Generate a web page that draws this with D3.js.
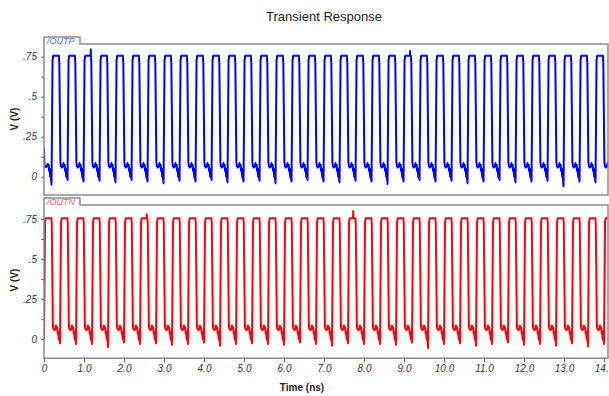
<!DOCTYPE html>
<html>
<head>
<meta charset="utf-8">
<script src="https://cdn.jsdelivr.net/npm/d3@7"></script>
<style>
  body { margin: 0; background: #fff; }
  svg { display: block; font-family: "Liberation Sans", Arial, sans-serif; }
</style>
</head>
<body>
<svg></svg>
<script>
// axis ticks
const xTicks = [0, 1, 2, 3, 4, 5, 6, 7, 8, 9, 10, 11, 12, 13, 14];
const xTickLabels = ["0", "1.0", "2.0", "3.0", "4.0", "5.0", "6.0", "7.0", "8.0", "9.0", "10.0", "11.0", "12.0", "13.0", "14.0"];
const yTicks = [0, 0.25, 0.5, 0.75];
const yTickLabels = ["0", ".25", ".5", ".75"];
const yMinorTicks = [0.125, 0.375, 0.625];

// clock period and phase of each output (ns)
const period = 0.4;
const outnPhase = 0.012;
const outpPhase = 0.2;

// shape of one cycle: time from the rising edge (ns) and voltage (V)
// null = the dip of that cycle just before it rises
const cycleOffset = [-0.085, -0.07, -0.06, -0.045, -0.035, -0.012, 0.004, 0.014, 0.03, 0.172, 0.182, 0.21, 0.222, 0.25, 0.268, 0.285, 0.30];
const cycleVolt   = [0.075, 0.035, 0.05, 0.0, 0.02, null, 0.45, 0.73, 0.755, 0.755, 0.72, 0.09, 0.065, 0.058, 0.062, 0.085, 0.07];

// dip before each rising edge (V)
const outpDip = [-0.05, -0.02, -0.03, -0.025, -0.035, -0.02, -0.03, -0.04, -0.025, -0.03, -0.02, -0.035, -0.03, -0.025, -0.04, -0.03, -0.02, -0.03, -0.035, -0.025, -0.03, -0.045, -0.03, -0.02, -0.03, -0.025, -0.04, -0.03, -0.02, -0.035, -0.03, -0.025, -0.06, -0.03, -0.035];
const outnDip = [-0.01, -0.025, -0.03, -0.03, -0.05, -0.02, -0.03, -0.025, -0.035, -0.03, -0.02, -0.04, -0.03, -0.025, -0.03, -0.035, -0.02, -0.03, -0.04, -0.025, -0.03, -0.03, -0.035, -0.02, -0.055, -0.03, -0.025, -0.04, -0.03, -0.02, -0.035, -0.03, -0.04, -0.025, -0.045, -0.03];

// start of each trace before the first full cycle
const outpHead = [[0, 0.18], [0.012, 0.07], [0.04, 0.06], [0.07, 0.065], [0.09, 0.08], [0.11, 0.07]];
const outnHead = [[0, 0.0]];

// small overshoot spikes on the high level
const outpSpikeTime = [1.17, 9.15];
const outpSpikeVolt = [0.795, 0.785];
const outnSpikeTime = [2.57, 7.73];
const outnSpikeVolt = [0.78, 0.80];

function buildTrace(head, phase, dips, spikeT, spikeV) {
  const pts = head.map(d => ({ t: d[0], v: d[1] }));
  const t0 = head[head.length - 1][0];
  dips.forEach((dip, k) => {
    const rise = phase + k * period;
    cycleOffset.forEach((o, i) => {
      const t = rise + o;
      if (t > t0) pts.push({ t, v: cycleVolt[i] === null ? dip : cycleVolt[i] });
    });
  });
  spikeT.forEach((s, i) => {
    pts.push({ t: s - 0.004, v: 0.755 }, { t: s, v: spikeV[i] }, { t: s + 0.004, v: 0.755 });
  });
  return pts.sort((a, b) => a.t - b.t);
}

const width = 609, height = 396;
const svg = d3.select("svg").attr("width", width).attr("height", height);

const x = d3.scaleLinear().domain([0, 14.1]).range([44, 608]);

const panels = [
  { name: "/OUTP", color: "#0000ff", labelColor: "#5a5aff", top: 44, tabTop: 37, bottom: 195,
    domain: [-0.114, 0.829], data: buildTrace(outpHead, outpPhase, outpDip, outpSpikeTime, outpSpikeVolt) },
  { name: "/OUTN", color: "#ff0000", labelColor: "#ff5a5a", top: 205, tabTop: 198, bottom: 358.3,
    domain: [-0.119, 0.8375], data: buildTrace(outnHead, outnPhase, outnDip, outnSpikeTime, outnSpikeVolt) }
];

// title
svg.append("text")
  .attr("x", 324).attr("y", 21)
  .attr("text-anchor", "middle")
  .style("font-size", "13px").style("fill", "#222")
  .text("Transient Response");

panels.forEach((p, idx) => {
  const y = d3.scaleLinear().domain(p.domain).range([p.bottom, p.top]);
  const g = svg.append("g");

  const clipId = "clip" + idx;
  svg.append("clipPath").attr("id", clipId)
    .append("rect")
    .attr("x", x(0)).attr("y", p.top)
    .attr("width", x(14.1) - x(0)).attr("height", p.bottom - p.top);

  // trace
  g.append("path")
    .datum(p.data)
    .attr("clip-path", `url(#${clipId})`)
    .attr("fill", "none")
    .attr("stroke", p.color)
    .attr("stroke-width", 2)
    .attr("stroke-linejoin", "round")
    .attr("d", d3.line().x(d => x(d.t)).y(d => y(d.v)));

  // frame with tab
  g.append("path")
    .attr("fill", "none")
    .attr("stroke", "#8c8c8c")
    .attr("stroke-width", 1.5)
    .attr("d", `M${x(0)},${p.bottom}V${p.tabTop}H80V${p.top}H608V${p.bottom}Z`);

  g.append("text")
    .attr("x", 47).attr("y", p.top)
    .style("font-size", "9px").style("font-style", "italic")
    .style("fill", p.labelColor)
    .text(p.name);

  // y axis
  const yAxis = d3.axisLeft(y)
    .tickValues(yTicks.concat(yMinorTicks))
    .tickSize(3)
    .tickPadding(4)
    .tickFormat(d => {
      const i = yTicks.indexOf(d);
      return i >= 0 ? yTickLabels[i] : "";
    });
  const ya = g.append("g").attr("transform", `translate(${x(0)},0)`).call(yAxis);
  ya.select(".domain").remove();
  ya.selectAll("line").attr("stroke", "#666");
  ya.selectAll("text")
    .style("font-size", "10px").style("font-style", "italic")
    .style("font-family", "'Liberation Sans', Arial, sans-serif")
    .attr("fill", "#333");

  svg.append("text")
    .attr("transform", `translate(18,${idx === 0 ? 119 : 280}) rotate(-90)`)
    .attr("text-anchor", "middle")
    .style("font-size", "10px").style("font-weight", "bold").style("fill", "#222")
    .text("V (V)");

  // x axis on the lower panel only
  if (idx === 1) {
    const xAxis = d3.axisBottom(x)
      .tickValues(xTicks)
      .tickSize(4)
      .tickPadding(3)
      .tickFormat((d, i) => xTickLabels[i]);
    const xa = g.append("g").attr("transform", `translate(0,${p.bottom})`).call(xAxis);
    xa.select(".domain").remove();
    xa.selectAll("line").attr("stroke", "#666");
    xa.selectAll("text")
      .style("font-size", "10px").style("font-style", "italic")
      .style("font-family", "'Liberation Sans', Arial, sans-serif")
      .attr("fill", "#333");
  }
});

svg.append("text")
  .attr("x", 302).attr("y", 391)
  .attr("text-anchor", "middle")
  .style("font-size", "10px").style("font-weight", "bold").style("fill", "#222")
  .text("Time (ns)");
</script>
</body>
</html>
